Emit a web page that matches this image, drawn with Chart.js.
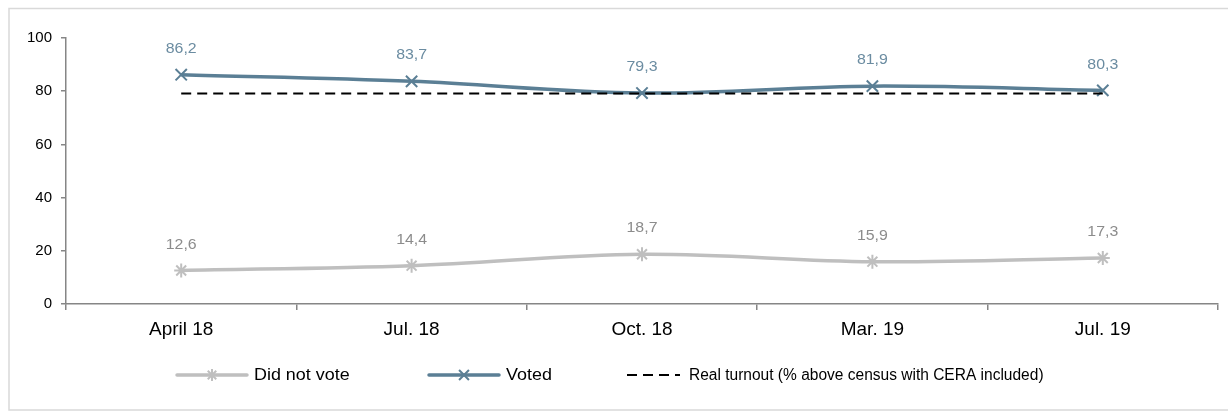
<!DOCTYPE html>
<html>
<head>
<meta charset="utf-8">
<script src="https://cdn.jsdelivr.net/npm/chart.js@4.4.1/dist/chart.umd.min.js"></script>
<style>
  html, body { margin: 0; padding: 0; background: #ffffff; }
  #wrap { width: 1228px; height: 411px; position: relative; }
</style>
</head>
<body>
<div id="wrap"><canvas id="c" width="1228" height="411"></canvas></div>
<script>
const categories = ['April 18', 'Jul. 18', 'Oct. 18', 'Mar. 19', 'Jul. 19'];
const didNotVote = [12.6, 14.4, 18.7, 15.9, 17.3];
const voted = [86.2, 83.7, 79.3, 81.9, 80.3];
const realTurnout = [79.1, 79.1, 79.1, 79.1, 79.1];
const seriesNames = ['Did not vote', 'Voted', 'Real turnout (% above census with CERA included)'];
const yTicks = [0, 20, 40, 60, 80, 100];

const FONT = '"Liberation Sans", Arial, sans-serif';

const frame = {
  id: 'frame',
  beforeDraw(chart) {
    const ctx = chart.ctx;
    ctx.save();
    ctx.fillStyle = '#ffffff';
    ctx.fillRect(0, 0, chart.width, chart.height);
    ctx.strokeStyle = '#d9d9d9';
    ctx.lineWidth = 1.5;
    ctx.strokeRect(9, 8.5, 1240, 401.5);
    ctx.restore();
  }
};

const valueLabels = {
  id: 'valueLabels',
  afterDatasetsDraw(chart) {
    const ctx = chart.ctx;
    ctx.save();
    ctx.font = '15px ' + FONT;
    ctx.textAlign = 'center';
    ctx.textBaseline = 'middle';
    chart.data.datasets.forEach((ds, i) => {
      if (!ds.showValues) return;
      const meta = chart.getDatasetMeta(i);
      ctx.fillStyle = ds.valueColor;
      meta.data.forEach((pt, j) => {
        const txt = String(ds.data[j]).replace('.', ',');
        ctx.save();
        ctx.translate(pt.x, pt.y - 26);
        ctx.scale(1.06, 1);
        ctx.fillText(txt, 0, 0);
        ctx.restore();
      });
    });
    ctx.restore();
  }
};

const legendStarts = [177, 429, 627];
const customLegend = {
  id: 'customLegend',
  afterDraw(chart) {
    const ctx = chart.ctx;
    ctx.save();
    ctx.font = '16px ' + FONT;
    const y = 375;
    [0, 1, 2].forEach(i => {
      const ds = chart.data.datasets[i];
      const dashed = ds.borderDash && ds.borderDash.length;
      const lineLen = dashed ? 53 : 70;
      const x = legendStarts[i];
      ctx.save();
      ctx.strokeStyle = ds.borderColor;
      ctx.lineWidth = ds.borderWidth;
      ctx.lineCap = dashed ? 'butt' : 'round';
      ctx.setLineDash(ds.borderDash || []);
      ctx.beginPath();
      ctx.moveTo(x, y);
      ctx.lineTo(x + lineLen, y);
      ctx.stroke();
      ctx.restore();
      if (ds.pointRadius > 0) {
        ctx.save();
        ctx.strokeStyle = ds.pointBorderColor;
        ctx.lineWidth = ds.pointBorderWidth;
        Chart.helpers.drawPoint(ctx, {
          pointStyle: ds.pointStyle,
          radius: ds.pointRadius - 1,
          borderWidth: ds.pointBorderWidth,
          rotation: 0
        }, x + lineLen / 2, y);
        ctx.restore();
      }
      ctx.fillStyle = '#000000';
      ctx.textBaseline = 'middle';
      ctx.textAlign = 'left';
      const tx = x + lineLen + (dashed ? 9 : 7);
      ctx.save();
      ctx.translate(tx, y + 1);
      ctx.scale(i === 2 ? 0.97 : 1.12, 1);
      ctx.fillText(ds.label, 0, 0);
      ctx.restore();
    });
    ctx.restore();
  }
};

new Chart(document.getElementById('c'), {
  type: 'line',
  data: {
    labels: categories,
    datasets: [
      {
        label: seriesNames[0],
        data: didNotVote,
        borderColor: '#bfbfbf',
        backgroundColor: '#bfbfbf',
        borderWidth: 3.5,
        tension: 0.35,
        pointStyle: 'star',
        pointRadius: 7,
        pointBorderWidth: 2,
        pointBorderColor: '#bfbfbf',
        pointBackgroundColor: '#bfbfbf',
        showValues: true,
        valueColor: '#8c8c8c',
        order: 2
      },
      {
        label: seriesNames[1],
        data: voted,
        borderColor: '#5b7f95',
        backgroundColor: '#5b7f95',
        borderWidth: 3.5,
        tension: 0.35,
        pointStyle: 'crossRot',
        pointRadius: 8,
        pointBorderWidth: 2,
        pointBorderColor: '#5b7f95',
        pointBackgroundColor: '#5b7f95',
        showValues: true,
        valueColor: '#6b8ca1',
        order: 1
      },
      {
        label: seriesNames[2],
        data: realTurnout,
        borderColor: '#000000',
        backgroundColor: '#000000',
        borderWidth: 2,
        borderDash: [10, 6],
        pointRadius: 0,
        tension: 0,
        order: 0
      }
    ]
  },
  options: {
    responsive: false,
    animation: false,
    events: [],
    layout: { padding: { left: 0, right: 10, top: 38, bottom: 0 } },
    plugins: { legend: { display: false }, tooltip: { enabled: false } },
    scales: {
      x: {
        offset: true,
        afterFit(scale) { scale.height = 107; },
        border: { display: true, color: '#868686', width: 1.5 },
        grid: { offset: true, drawOnChartArea: false, drawTicks: true, tickLength: 6, color: '#868686', lineWidth: 1.5 },
        ticks: { color: '#000000', font: { family: FONT, size: 19 }, padding: 8, maxRotation: 0 }
      },
      y: {
        min: 0,
        max: 100,
        afterFit(scale) { scale.width = 66; },
        afterBuildTicks(scale) { scale.ticks = yTicks.map(v => ({ value: v })); },
        border: { display: true, color: '#868686', width: 1.5 },
        grid: { drawOnChartArea: false, drawTicks: true, tickLength: 5, color: '#868686', lineWidth: 1.5 },
        ticks: { color: '#000000', font: { family: FONT, size: 15 }, padding: 9 }
      }
    }
  },
  plugins: [frame, valueLabels, customLegend]
});
</script>
</body>
</html>
